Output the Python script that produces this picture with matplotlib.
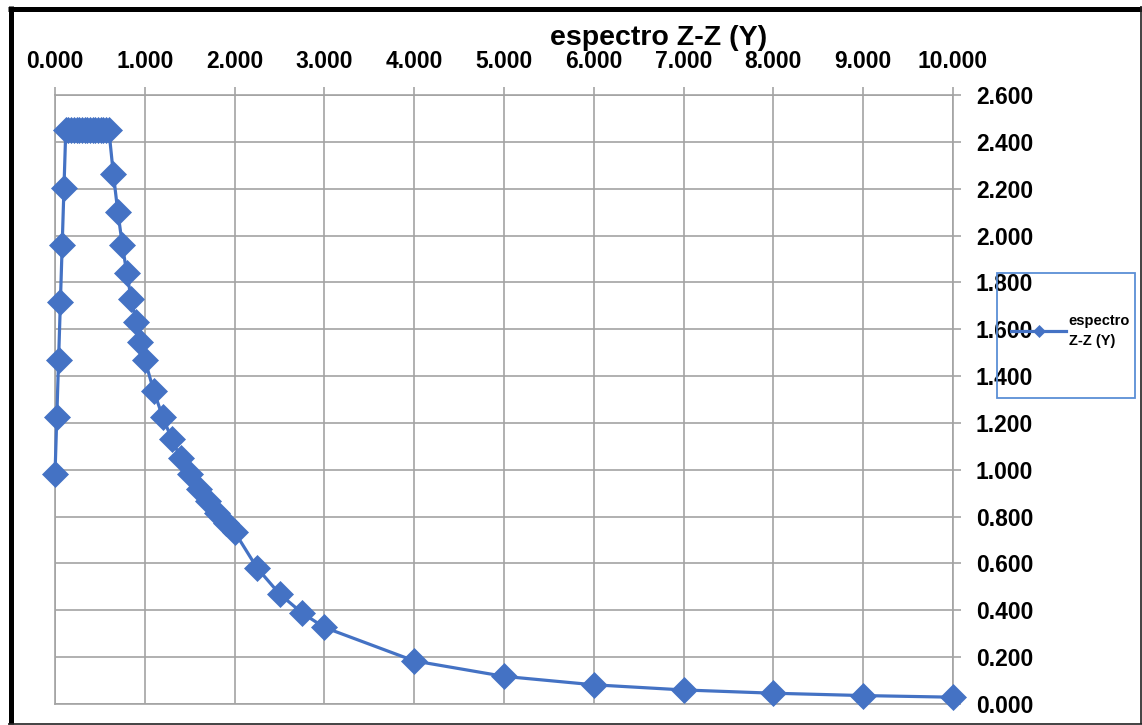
import matplotlib
matplotlib.use("Agg")
import matplotlib.pyplot as plt
from matplotlib.lines import Line2D
from matplotlib.patches import Rectangle
from matplotlib.ticker import MultipleLocator, FormatStrFormatter

# Period T (s) and spectral acceleration Sa for the Z-Z (Y) direction
periods = [0.00, 0.02, 0.04, 0.06, 0.08, 0.10,
           0.12, 0.15, 0.18, 0.21, 0.24, 0.27, 0.30, 0.33, 0.36,
           0.39, 0.42, 0.45, 0.48, 0.51, 0.54, 0.57, 0.60,
           0.65, 0.70, 0.75, 0.80, 0.85, 0.90, 0.95, 1.00,
           1.10, 1.20, 1.30, 1.40, 1.50, 1.60, 1.70, 1.80, 1.90, 2.00,
           2.25, 2.50, 2.75, 3.00, 4.00, 5.00, 6.00, 7.00, 8.00, 9.00, 10.00]
sa_values = [0.980, 1.225, 1.470, 1.715, 1.960, 2.205,
             2.450, 2.450, 2.450, 2.450, 2.450, 2.450, 2.450, 2.450, 2.450,
             2.450, 2.450, 2.450, 2.450, 2.450, 2.450, 2.450, 2.450,
             2.262, 2.100, 1.960, 1.838, 1.729, 1.633, 1.547, 1.470,
             1.336, 1.225, 1.131, 1.050, 0.980, 0.919, 0.865, 0.817, 0.774, 0.735,
             0.581, 0.470, 0.389, 0.327, 0.184, 0.118, 0.082, 0.060, 0.046, 0.036, 0.029]
series_name = "espectro Z-Z (Y)"

W, H = 1142, 725
BLUE = "#4472C4"
GRID = "#A3A3A3"
FONT = "Liberation Sans"

fig = plt.figure(figsize=(W / 100, H / 100), dpi=100)
fig.patch.set_facecolor("white")

left, right, top, bottom = 55, 953, 95, 704
ax = fig.add_axes([left / W, 1 - bottom / H, (right - left) / W, (bottom - top) / H])

ax.plot(periods, sa_values, color=BLUE, lw=2.3, marker="D", ms=12.8,
        mfc=BLUE, mec=BLUE, mew=0.5, label="espectro\nZ-Z (Y)", clip_on=False, zorder=3)

ax.set_xlim(0, 10)
ax.set_ylim(0, 2.6)
ax.xaxis.set_major_locator(MultipleLocator(1))
ax.yaxis.set_major_locator(MultipleLocator(0.2))
ax.xaxis.set_major_formatter(FormatStrFormatter("%.3f"))
ax.yaxis.set_major_formatter(FormatStrFormatter("%.3f"))

ax.xaxis.tick_top()
ax.yaxis.tick_right()
ax.tick_params(axis="both", length=6, width=1.2, color=GRID, labelsize=16.5)
ax.tick_params(axis="x", pad=10)
ax.tick_params(axis="y", pad=10.5)
for lab in ax.get_xticklabels() + ax.get_yticklabels():
    lab.set_fontfamily(FONT)
    lab.set_fontweight("bold")
    lab.set_color("black")

ax.grid(True, color=GRID, lw=1.2, zorder=0)
ax.set_axisbelow(True)
for sp in ax.spines.values():
    sp.set_color(GRID)
    sp.set_linewidth(1.2)

# Title
fig.text(659 / W, 1 - 45 / H, series_name, ha="center", va="baseline",
         fontsize=20.5, fontweight="bold", family=FONT)

# Legend with its own box
fig.add_artist(Rectangle((997 / W, 1 - 398 / H), 138 / W, 125 / H,
                         transform=fig.transFigure, fill=False,
                         edgecolor="#5B8FD6", lw=1.3))
leg = ax.legend(loc="center left", bbox_to_anchor=(1001 / W, 1 - 331 / H),
                bbox_transform=fig.transFigure, frameon=False,
                prop={"family": FONT, "weight": "bold", "size": 10.5},
                handlelength=3.75, handletextpad=0.2, markerscale=0.45,
                borderpad=0.2)
for t in leg.get_texts():
    t.set_linespacing(1.55)

# Outer frame: heavy left/top, thin right/bottom
def fig_line(xs, ys, lw, color):
    fig.add_artist(Line2D([x / W for x in xs], [1 - y / H for y in ys],
                          transform=fig.transFigure, lw=lw, color=color,
                          solid_capstyle="butt"))

fig_line([10.5, 10.5], [6, 723.5], 3.6, "black")
fig_line([8, 1141.5], [8.5, 8.5], 3.6, "black")
fig_line([1141, 1141], [6, 724], 1.2, "#222222")
fig_line([8, 1142], [723.5, 723.5], 1.2, "#222222")

fig.savefig("out.png", dpi=100)
